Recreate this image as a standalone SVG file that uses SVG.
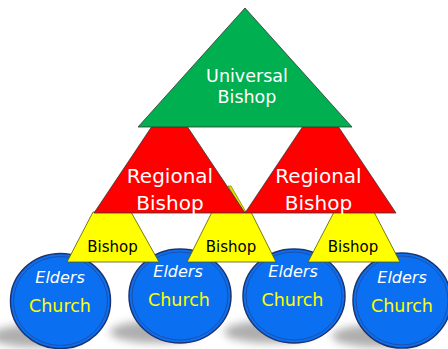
<svg xmlns="http://www.w3.org/2000/svg" width="448" height="349" viewBox="0 0 448 349">
<defs>
<filter id="blur" x="-50%" y="-50%" width="200%" height="200%"><feGaussianBlur stdDeviation="4"/></filter>
<style>
.t{font-family:"DejaVu Sans","Verdana",sans-serif;text-anchor:middle}
.w{fill:#ffffff}
.big{font-size:20px}
.uni{font-size:17.5px}
.bk{fill:#000000;font-size:15px}
.eld{fill:#ffffff;font-size:16px;font-style:italic}
.ch{fill:#ffff00;font-size:17.5px}
.circ{fill:#0a6ff0;stroke:#1c3470;stroke-width:1.5}
.ring{fill:none;stroke:#1f4fa8;stroke-width:1}
.shadow{fill:#9a9a9a;opacity:0.8;filter:url(#blur)}
.yel{fill:#ffff00;stroke:#555500;stroke-width:0.8}
.red{fill:#ff0000;stroke:#333333;stroke-width:0.8}
.grn{fill:#00b050;stroke:#333333;stroke-width:0.8}
</style>
</defs>
<rect width="448" height="349" fill="#ffffff"/>
<g id="shadows">
<ellipse class="shadow" cx="35" cy="336" rx="45" ry="11"/>
<ellipse class="shadow" cx="155" cy="332" rx="45" ry="11"/>
<ellipse class="shadow" cx="269" cy="332" rx="45" ry="11"/>
<ellipse class="shadow" cx="377" cy="336" rx="45" ry="11"/>
</g>
<g id="connectors"></g>
<g id="church1">
<ellipse class="circ" cx="60.5" cy="301" rx="50" ry="47.5"/>
<ellipse class="ring" cx="60.5" cy="301" rx="47" ry="44.5"/>
<text class="t eld" x="60" y="283">Elders</text>
<text class="t ch" x="60" y="312">Church</text>
</g>
<g id="church2">
<ellipse class="circ" cx="180" cy="296" rx="51" ry="47"/>
<ellipse class="ring" cx="180" cy="296" rx="48" ry="44"/>
<text class="t eld" x="178" y="277">Elders</text>
<text class="t ch" x="179" y="306">Church</text>
</g>
<g id="church3">
<ellipse class="circ" cx="294" cy="296" rx="51" ry="47"/>
<ellipse class="ring" cx="294" cy="296" rx="48" ry="44"/>
<text class="t eld" x="293" y="277">Elders</text>
<text class="t ch" x="292.5" y="306">Church</text>
</g>
<g id="church4">
<ellipse class="circ" cx="402" cy="300.5" rx="49" ry="47.5"/>
<ellipse class="ring" cx="402" cy="300.5" rx="46" ry="44.5"/>
<text class="t eld" x="402" y="283">Elders</text>
<text class="t ch" x="402" y="312">Church</text>
</g>
<g id="bishop1">
<polygon class="yel" points="93,212 131,212 159,262 67,262"/>
<text class="t bk" x="112.5" y="252">Bishop</text>
</g>
<g id="bishop2">
<polygon class="yel" points="212,212 251,212 276,262 187,262"/>
<polygon points="228,186 231,186 246,212 243.5,212" fill="#e0e000" stroke="#666600" stroke-width="0.6"/>
<text class="t bk" x="231" y="252">Bishop</text>
</g>
<g id="bishop3">
<polygon class="yel" points="334,212 374,212 400,262 308,262"/>
<text class="t bk" x="353" y="252">Bishop</text>
</g>
<g id="regional1">
<polygon class="red" points="169.5,100 245,213 94,213"/>
<text class="t w big" x="170" y="183">Regional</text>
<text class="t w big" x="170" y="210">Bishop</text>
</g>
<g id="regional2">
<polygon class="red" points="320.5,100 396,213 245,213"/>
<text class="t w big" x="318.5" y="183">Regional</text>
<text class="t w big" x="318.5" y="210">Bishop</text>
</g>
<g id="universal">
<polygon class="grn" points="245,8 352,127 138,127"/>
<text class="t w uni" x="247" y="82">Universal</text>
<text class="t w uni" x="247" y="103">Bishop</text>
</g>
</svg>
